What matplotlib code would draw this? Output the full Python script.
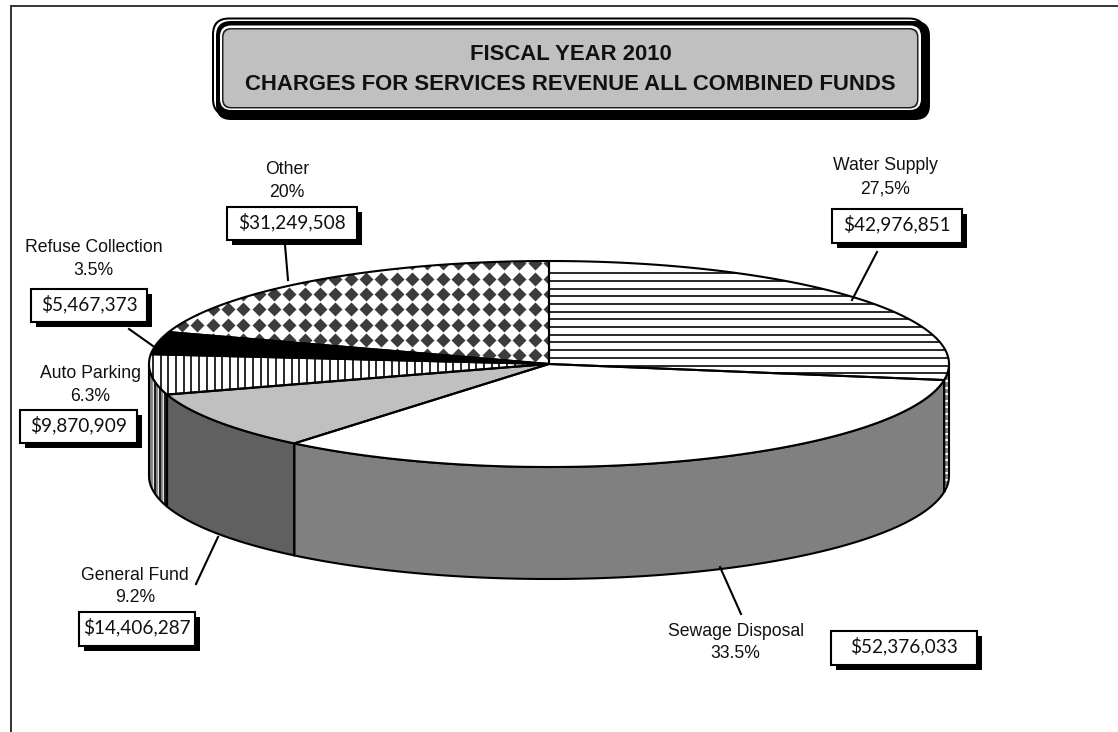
import numpy as np
import matplotlib
matplotlib.use("Agg")
import matplotlib.pyplot as plt
from matplotlib.patches import Polygon, Rectangle, FancyBboxPatch

# Revenue by source, clockwise from twelve o'clock
categories = ["Water Supply", "Sewage Disposal", "General Fund", "Auto Parking", "Refuse Collection", "Other"]
revenue = [42976851, 52376033, 14406287, 9870909, 5467373, 31249508]
share_labels = ["27,5%", "33.5%", "9.2%", "6.3%", "3.5%", "20%"]

# Label layout in pixels: text centre x, first line y, box (left, right, top, bottom)
label_pos = [(885, 166), (735.5, 631), (135, 575), (90, 374), (93.5, 248), (287, 170)]
box_pos = [(832, 962, 209, 243), (831, 977, 631, 665), (79, 195, 612, 646),
           (20, 137, 410, 443), (31, 147, 289, 322), (227, 357, 207, 240)]
leaders = [((877, 252), (852, 300)), ((741, 614), (720, 567)), ((196, 584), (218, 537)),
           None, ((129, 329), (153, 346)), ((285, 245), (288, 280))]

W, H = 1118, 732
CX, CY, RX, RY, DEPTH = 549, 364, 400, 103, 112
TEXT_FONT = "Liberation Sans"
MONEY_FONT = "Lato"
LW = 1.5

fig = plt.figure(figsize=(W / 100, H / 100), dpi=100, facecolor="white")
ax = fig.add_axes([0, 0, 1, 1])
ax.set_xlim(0, W)
ax.set_ylim(H, 0)
ax.axis("off")


def arc(t0, t1, dy=0.0):
    t = np.radians(np.linspace(t0, t1, 160))
    return np.column_stack([CX + RX * np.sin(t), CY - RY * np.cos(t) + dy])


def hlines(clip, start, step, color="black", lw=1.0):
    for y in np.arange(start, H, step):
        ln, = ax.plot([0, W], [y, y], color=color, lw=lw, zorder=clip.get_zorder() + 0.1, solid_capstyle="butt")
        ln.set_clip_path(clip)


def vlines(clip, start, step, color="black", lw=1.0):
    for x in np.arange(start, W, step):
        ln, = ax.plot([x, x], [0, H], color=color, lw=lw, zorder=clip.get_zorder() + 0.1, solid_capstyle="butt")
        ln.set_clip_path(clip)


# Page frame: a top and a left rule only
ax.plot([11, W], [6, 6], color="black", lw=1.1, zorder=1)
ax.plot([11, 11], [6, H], color="#303030", lw=1.4, zorder=1)

fractions = np.array(revenue, dtype=float) / sum(revenue)
edges = np.concatenate([[0], np.cumsum(fractions)]) * 360

side_colors = ["#808080", "#808080", "#606060", "#808080", None, None]
top_colors = ["white", "white", "#c0c0c0", "white", "black", "white"]

# Rim of the disc, only the part facing the viewer
for i in range(6):
    t0, t1 = max(edges[i], 90), min(edges[i + 1], 270)
    if t1 <= t0:
        continue
    verts = np.vstack([arc(t0, t1), arc(t0, t1, DEPTH)[::-1]])
    p = Polygon(verts, closed=True, fc=side_colors[i], ec="none", zorder=2)
    ax.add_patch(p)
    if i == 0:
        hlines(p, 381, 6.6, color="white", lw=1.5)
    if i == 3:
        vlines(p, 152.5, 5.2, color="#e0e0e0", lw=1.0)
        vlines(p, 155, 5.2, color="black", lw=1.1)
    outline = Polygon(verts, closed=True, fc="none", ec="black", lw=LW, zorder=2.5)
    ax.add_patch(outline)

# Top face of each slice with its fill pattern
for i in range(6):
    verts = np.vstack([[CX, CY], arc(edges[i], edges[i + 1])])
    p = Polygon(verts, closed=True, fc=top_colors[i], ec="none", zorder=3)
    ax.add_patch(p)
    if i == 0:
        hlines(p, 273.2, 7.7, color="#202020", lw=1.35)
    elif i == 3:
        vlines(p, 153, 7.7, color="#202020", lw=1.35)
    elif i == 5:
        gx = np.arange(243.3 - 15.33 * 10, CX + 20, 15.33)
        gy = np.arange(309.3 - 15.33 * 4, CY + 30, 15.33)
        xx, yy = np.meshgrid(gx, gy)
        ln, = ax.plot(xx.ravel(), yy.ravel(), ls="none", marker="D", ms=7.0, mfc="#3c3c3c",
                      mec="none", zorder=3.1)
        ln.set_clip_path(p)
    ax.add_patch(Polygon(verts, closed=True, fc="none", ec="black", lw=LW, joinstyle="round", zorder=3.5))

# Callout boxes, captions and leader lines
for i, cat in enumerate(categories):
    tx, ty = label_pos[i]
    ax.text(tx, ty, cat, ha="center", va="center", family=TEXT_FONT, fontsize=12.7, color="#111111", zorder=6)
    ax.text(tx, ty + 22.5, share_labels[i], ha="center", va="center", family=TEXT_FONT, fontsize=12.7,
            color="#111111", zorder=6)
    l, r, t, b = box_pos[i]
    ax.add_patch(Rectangle((l + 5, t + 5), r - l, b - t, fc="black", ec="none", zorder=5))
    ax.add_patch(Rectangle((l, t), r - l, b - t, fc="white", ec="black", lw=LW, zorder=5.2))
    ax.text((l + r) / 2, (t + b) / 2 - 1.5, f"${revenue[i]:,}", ha="center", va="center",
            family=MONEY_FONT, fontsize=13.7, color="#111111", zorder=6)
    if leaders[i] is not None:
        (x0, y0), (x1, y1) = leaders[i]
        ax.plot([x0, x1], [y0, y1], color="black", lw=LW, zorder=4)


def rounded(l, r, t, b, rad, fc, z):
    ax.add_patch(FancyBboxPatch((l + rad, t + rad), r - l - 2 * rad, b - t - 2 * rad,
                                boxstyle=f"round,pad={rad},rounding_size={rad}",
                                fc=fc, ec="none", zorder=z))


# Title plaque, built up from nested rounded rectangles
rounded(212, 926, 17.5, 116, 17, "black", 7)
rounded(214, 924, 19.5, 114, 15, "white", 7.1)
rounded(216, 930, 21, 120, 15, "black", 7.2)
rounded(220, 921, 25.5, 110, 11, "white", 7.3)
rounded(222, 918.5, 28, 108.5, 9, "#202020", 7.4)
rounded(223.5, 917, 29.5, 107, 8, "#c0c0c0", 7.5)
ax.text(570.5, 55, "FISCAL YEAR 2010", ha="center", va="center", family=TEXT_FONT, weight="bold",
        fontsize=15.9, color="#111111", zorder=8)
ax.text(570.5, 84, "CHARGES FOR SERVICES REVENUE ALL COMBINED FUNDS", ha="center", va="center",
        family=TEXT_FONT, weight="bold", fontsize=15.9, color="#111111", zorder=8)

fig.savefig("out.png", dpi=100, facecolor="white")
